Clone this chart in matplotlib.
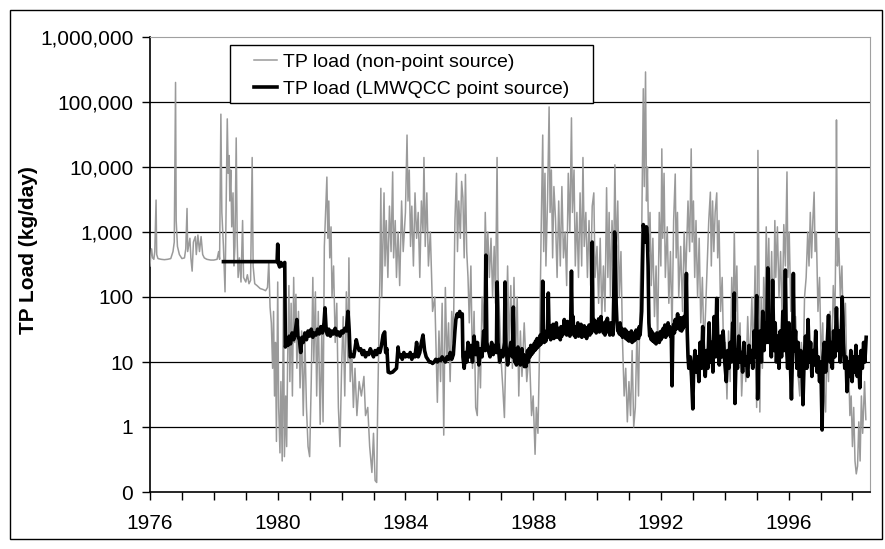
import matplotlib
matplotlib.use("Agg")
import matplotlib.pyplot as plt
from matplotlib.patches import Rectangle

plt.rcParams['font.family'] = ['Liberation Sans', 'DejaVu Sans']

# TP load, non-point source (year, kg/day)
nps_year = [
    1976.00, 1976.02, 1976.05, 1976.08, 1976.12, 1976.15, 1976.19, 1976.21, 1976.25, 1976.35,
    1976.45, 1976.55, 1976.65, 1976.72, 1976.76, 1976.80, 1976.82, 1976.86, 1976.92, 1977.00,
    1977.08, 1977.12, 1977.16, 1977.18, 1977.25, 1977.28, 1977.32, 1977.36, 1977.42, 1977.45,
    1977.50, 1977.55, 1977.60, 1977.65, 1977.70, 1977.78, 1977.90, 1978.00, 1978.10, 1978.15,
    1978.18, 1978.22, 1978.25, 1978.30, 1978.35, 1978.38, 1978.42, 1978.45, 1978.48, 1978.50,
    1978.53, 1978.56, 1978.60, 1978.63, 1978.66, 1978.70, 1978.73, 1978.76, 1978.80, 1978.85,
    1978.90, 1978.93, 1979.00, 1979.05, 1979.10, 1979.15, 1979.20, 1979.23, 1979.28, 1979.35,
    1979.45, 1979.55, 1979.62, 1979.68, 1979.72, 1979.76, 1979.80, 1979.84, 1979.87, 1979.90,
    1979.93, 1979.96, 1980.00, 1980.03, 1980.07, 1980.10, 1980.14, 1980.18, 1980.21, 1980.25,
    1980.28, 1980.31, 1980.35, 1980.38, 1980.42, 1980.46, 1980.50, 1980.53, 1980.57, 1980.60,
    1980.65, 1980.70, 1980.75, 1980.80, 1980.85, 1980.90, 1980.95, 1981.00, 1981.05, 1981.10,
    1981.13, 1981.18, 1981.22, 1981.27, 1981.33, 1981.38, 1981.42, 1981.46, 1981.50, 1981.54,
    1981.57, 1981.60, 1981.63, 1981.67, 1981.70, 1981.75, 1981.80, 1981.85, 1981.90, 1981.95,
    1982.00, 1982.05, 1982.10, 1982.15, 1982.20, 1982.23, 1982.27, 1982.32, 1982.37, 1982.42,
    1982.48, 1982.55, 1982.62, 1982.70, 1982.75, 1982.82, 1982.88, 1982.95, 1983.00, 1983.05,
    1983.10, 1983.13, 1983.17, 1983.20, 1983.23, 1983.26, 1983.30, 1983.33, 1983.36, 1983.40,
    1983.45, 1983.50, 1983.55, 1983.60, 1983.63, 1983.68, 1983.72, 1983.77, 1983.82, 1983.88,
    1983.93, 1984.00, 1984.05, 1984.08, 1984.12, 1984.16, 1984.20, 1984.25, 1984.30, 1984.35,
    1984.40, 1984.45, 1984.50, 1984.55, 1984.58, 1984.62, 1984.67, 1984.72, 1984.78, 1984.85,
    1984.92, 1985.00, 1985.05, 1985.10, 1985.15, 1985.20, 1985.25, 1985.30, 1985.35, 1985.40,
    1985.45, 1985.50, 1985.55, 1985.60, 1985.63, 1985.67, 1985.72, 1985.76, 1985.80, 1985.84,
    1985.88, 1985.92, 1985.96, 1986.00, 1986.05, 1986.10, 1986.15, 1986.20, 1986.25, 1986.30,
    1986.35, 1986.40, 1986.45, 1986.50, 1986.54, 1986.58, 1986.63, 1986.68, 1986.73, 1986.78,
    1986.82, 1986.87, 1986.90, 1986.95, 1987.00, 1987.05, 1987.10, 1987.15, 1987.20, 1987.25,
    1987.30, 1987.35, 1987.40, 1987.45, 1987.50, 1987.55, 1987.60, 1987.65, 1987.72, 1987.80,
    1987.88, 1987.95, 1988.00, 1988.06, 1988.10, 1988.15, 1988.20, 1988.25, 1988.30, 1988.33,
    1988.37, 1988.40, 1988.45, 1988.50, 1988.53, 1988.57, 1988.61, 1988.65, 1988.70, 1988.75,
    1988.80, 1988.85, 1988.90, 1988.95, 1989.00, 1989.05, 1989.10, 1989.15, 1989.20, 1989.23,
    1989.28, 1989.32, 1989.37, 1989.42, 1989.47, 1989.52, 1989.56, 1989.60, 1989.65, 1989.70,
    1989.75, 1989.80, 1989.85, 1989.90, 1989.94, 1990.00, 1990.05, 1990.10, 1990.15, 1990.20,
    1990.25, 1990.30, 1990.34, 1990.38, 1990.42, 1990.47, 1990.52, 1990.56, 1990.60, 1990.65,
    1990.70, 1990.75, 1990.80, 1990.85, 1990.90, 1990.95, 1991.00, 1991.05, 1991.10, 1991.15,
    1991.20, 1991.25, 1991.30, 1991.35, 1991.40, 1991.45, 1991.48, 1991.52, 1991.55, 1991.58,
    1991.62, 1991.66, 1991.70, 1991.75, 1991.80, 1991.85, 1991.90, 1991.95, 1992.00, 1992.03,
    1992.06, 1992.10, 1992.14, 1992.20, 1992.25, 1992.30, 1992.35, 1992.40, 1992.45, 1992.48,
    1992.52, 1992.56, 1992.62, 1992.68, 1992.73, 1992.78, 1992.85, 1992.90, 1992.95, 1992.98,
    1993.02, 1993.06, 1993.10, 1993.15, 1993.20, 1993.25, 1993.30, 1993.35, 1993.40, 1993.45,
    1993.50, 1993.55, 1993.58, 1993.62, 1993.66, 1993.70, 1993.75, 1993.78, 1993.82, 1993.87,
    1993.92, 1993.97, 1994.02, 1994.07, 1994.12, 1994.17, 1994.22, 1994.26, 1994.30, 1994.34,
    1994.38, 1994.43, 1994.48, 1994.53, 1994.60, 1994.66, 1994.72, 1994.78, 1994.85, 1994.90,
    1994.95, 1995.00, 1995.04, 1995.07, 1995.10, 1995.14, 1995.18, 1995.22, 1995.26, 1995.30,
    1995.34, 1995.38, 1995.42, 1995.47, 1995.52, 1995.57, 1995.60, 1995.65, 1995.70, 1995.75,
    1995.80, 1995.85, 1995.90, 1995.95, 1995.98, 1996.02, 1996.07, 1996.12, 1996.17, 1996.22,
    1996.28, 1996.35, 1996.40, 1996.45, 1996.50, 1996.55, 1996.60, 1996.64, 1996.68, 1996.72,
    1996.76, 1996.80, 1996.83, 1996.87, 1996.92, 1996.97, 1997.02, 1997.07, 1997.12, 1997.16,
    1997.20, 1997.25, 1997.30, 1997.35, 1997.40, 1997.45, 1997.48, 1997.50, 1997.53, 1997.57,
    1997.62, 1997.67, 1997.72, 1997.78, 1997.83, 1997.88, 1997.92, 1997.96, 1998.00, 1998.04,
    1998.08, 1998.12, 1998.16, 1998.20, 1998.24, 1998.28, 1998.32, 1998.38, 1998.42,
]
nps_load = [
    300, 420, 550, 400, 380, 500, 3100, 450, 390, 380,
    375, 380, 390, 500, 700, 200000, 1500, 600, 450, 390,
    400, 550, 2300, 500, 800, 400, 250, 700, 850, 450,
    900, 500, 850, 450, 400, 380, 370, 370, 380, 500,
    380, 65000, 2000, 600, 120, 1500, 55000, 8000, 15000, 3000,
    9000, 1200, 4000, 300, 600, 28000, 800, 200, 400, 170,
    1500, 200, 170, 220, 160, 180, 14000, 300, 160, 150,
    135, 130, 125, 140, 350, 70, 40, 8, 60, 3,
    20, 0.6, 170, 2, 0.4, 5, 0.3, 100, 0.35, 3,
    0.5, 10, 150, 5, 80, 3, 200, 20, 110, 8,
    60, 4, 30, 1.5, 25, 2, 0.5, 0.35, 5, 200,
    10, 120, 3, 60, 1.1, 30, 1.2, 600, 2000, 7000,
    800, 3000, 400, 1200, 100, 300, 20, 80, 2, 0.5,
    8, 50, 3, 120, 10, 400, 5, 15, 2, 8,
    1.5, 5, 3, 6, 1.5, 2, 0.5, 0.2, 0.8, 0.15,
    0.14, 2, 30, 200, 4700, 100, 800, 4000, 300, 1500,
    200, 2500, 500, 8400, 400, 1500, 200, 1000, 150, 3000,
    500, 2000, 31000, 3000, 9000, 600, 2500, 300, 4000, 800,
    2000, 200, 3000, 1000, 14000, 600, 4000, 300, 1000, 60,
    100, 2.4, 30, 5, 80, 0.75, 140, 10, 40, 5,
    60, 20, 1500, 8000, 500, 3000, 800, 6000, 3400, 400,
    7700, 500, 200, 40, 300, 8, 60, 2, 1.5, 20,
    4, 100, 30, 2000, 300, 1000, 200, 800, 100, 600,
    80, 14000, 200, 50, 10, 4, 1.4, 20, 300, 15,
    150, 8, 200, 12, 100, 3, 30, 6, 40, 5,
    15, 1.5, 3, 0.38, 2, 0.8, 15, 1000, 31000, 500,
    8000, 300, 3000, 84000, 2000, 9000, 400, 5000, 1600, 200,
    3000, 300, 5000, 400, 1000, 150, 8000, 1000, 57000, 2000,
    9000, 300, 2000, 200, 4000, 300, 14000, 600, 2000, 200,
    1500, 150, 2500, 4000, 200, 600, 80, 800, 50, 300,
    60, 4800, 200, 2000, 100, 1500, 300, 10800, 400, 3000,
    100, 500, 20, 3, 8, 1.2, 5, 1.5, 15, 1.0,
    2, 30, 3, 100, 1000, 160000, 5000, 290000, 3000, 10000,
    500, 2000, 150, 800, 50, 300, 20, 2000, 300, 19000,
    800, 8000, 200, 1200, 80, 500, 30, 1500, 7800, 400,
    2000, 100, 600, 60, 1000, 200, 3000, 500, 19000, 700,
    3000, 200, 1500, 100, 800, 40, 200, 15, 60, 300,
    1500, 4100, 300, 3000, 500, 2000, 4000, 400, 1500, 60,
    200, 10, 20, 2.7, 30, 5, 200, 30, 1000, 60,
    300, 10, 40, 3, 20, 5, 50, 8, 100, 10,
    300, 2, 18000, 300, 1.7, 100, 8, 200, 30, 1200,
    100, 800, 50, 500, 20, 1500, 200, 1200, 100, 500,
    40, 1300, 300, 8400, 200, 1000, 60, 200, 20, 50,
    8, 3, 20, 5, 100, 200, 1000, 300, 2000, 400,
    1500, 4100, 500, 1000, 60, 200, 10, 40, 3, 1.7,
    20, 5, 60, 10, 150, 40, 900, 53000, 300, 800,
    100, 300, 20, 80, 5, 10, 1.5, 3, 0.5, 2,
    0.3, 0.19, 0.25, 1.2, 0.3, 3, 0.8, 5, 1.3,
]

# TP load, LMWQCC point source (year, kg/day)
ps_year = [
    1978.30, 1979.98, 1980.00, 1980.02, 1980.06, 1980.10, 1980.14, 1980.18, 1980.22, 1980.24,
    1980.28, 1980.32, 1980.36, 1980.40, 1980.45, 1980.50, 1980.55, 1980.60, 1980.63, 1980.68,
    1980.72, 1980.76, 1980.80, 1980.85, 1980.90, 1980.95, 1981.00, 1981.05, 1981.10, 1981.15,
    1981.20, 1981.25, 1981.30, 1981.35, 1981.40, 1981.45, 1981.48, 1981.52, 1981.56, 1981.60,
    1981.65, 1981.70, 1981.75, 1981.80, 1981.85, 1981.90, 1981.95, 1982.00, 1982.05, 1982.10,
    1982.15, 1982.20, 1982.24, 1982.27, 1982.32, 1982.38, 1982.42, 1982.46, 1982.50, 1982.55,
    1982.60, 1982.65, 1982.70, 1982.75, 1982.80, 1982.85, 1982.90, 1982.95, 1983.00, 1983.05,
    1983.10, 1983.15, 1983.20, 1983.25, 1983.30, 1983.35, 1983.38, 1983.42, 1983.46, 1983.52,
    1983.60, 1983.66, 1983.72, 1983.77, 1983.80, 1983.85, 1983.90, 1983.95, 1984.00, 1984.05,
    1984.10, 1984.15, 1984.20, 1984.25, 1984.30, 1984.35, 1984.40, 1984.45, 1984.50, 1984.55,
    1984.60, 1984.65, 1984.70, 1984.75, 1984.80, 1984.85, 1984.90, 1984.95, 1985.00, 1985.05,
    1985.10, 1985.15, 1985.20, 1985.25, 1985.30, 1985.35, 1985.40, 1985.45, 1985.50, 1985.55,
    1985.58, 1985.62, 1985.66, 1985.70, 1985.74, 1985.78, 1985.80, 1985.84, 1985.88, 1985.92,
    1985.96, 1986.00, 1986.05, 1986.10, 1986.15, 1986.20, 1986.25, 1986.30, 1986.35, 1986.40,
    1986.45, 1986.50, 1986.52, 1986.55, 1986.60, 1986.65, 1986.70, 1986.75, 1986.80, 1986.85,
    1986.87, 1986.90, 1986.95, 1987.00, 1987.05, 1987.10, 1987.12, 1987.15, 1987.20, 1987.25,
    1987.30, 1987.35, 1987.38,
    1987.400, 1987.425, 1987.450, 1987.475, 1987.500, 1987.525, 1987.550, 1987.575, 1987.600, 1987.625,
    1987.650, 1987.675, 1987.700, 1987.725, 1987.750, 1987.775, 1987.800, 1987.825, 1987.850, 1987.875,
    1987.900, 1987.925, 1987.950, 1987.975, 1988.000, 1988.025, 1988.050, 1988.075, 1988.100, 1988.125,
    1988.150, 1988.175, 1988.200, 1988.225, 1988.250, 1988.275, 1988.300, 1988.325, 1988.350, 1988.375,
    1988.400, 1988.425, 1988.450, 1988.475, 1988.500, 1988.525, 1988.550, 1988.575, 1988.600, 1988.625,
    1988.650, 1988.675, 1988.700, 1988.725, 1988.750, 1988.775, 1988.800, 1988.825, 1988.850, 1988.875,
    1988.900, 1988.925, 1988.950, 1988.975, 1989.000, 1989.025, 1989.050, 1989.075, 1989.100, 1989.125,
    1989.150, 1989.175, 1989.200, 1989.225, 1989.250, 1989.275, 1989.300, 1989.325, 1989.350, 1989.375,
    1989.400, 1989.425, 1989.450, 1989.475, 1989.500, 1989.525, 1989.550, 1989.575, 1989.600, 1989.625,
    1989.650, 1989.675, 1989.700, 1989.725, 1989.750, 1989.775, 1989.800, 1989.825, 1989.850, 1989.875,
    1989.900, 1989.925, 1989.950, 1989.975, 1990.000, 1990.025, 1990.050, 1990.075, 1990.100, 1990.125,
    1990.150, 1990.175, 1990.200, 1990.225, 1990.250, 1990.275, 1990.300, 1990.325, 1990.350, 1990.375,
    1990.400, 1990.425, 1990.450, 1990.475, 1990.500, 1990.525, 1990.550, 1990.575, 1990.600, 1990.625,
    1990.650, 1990.675, 1990.700, 1990.725, 1990.750, 1990.775, 1990.800, 1990.825, 1990.850, 1990.875,
    1990.900, 1990.925, 1990.950, 1990.975, 1991.000, 1991.025, 1991.050, 1991.075, 1991.100, 1991.125,
    1991.150, 1991.175, 1991.200, 1991.225, 1991.250, 1991.275, 1991.300, 1991.325, 1991.350, 1991.375,
    1991.400, 1991.425, 1991.450, 1991.475, 1991.500, 1991.525, 1991.550, 1991.575, 1991.600, 1991.625,
    1991.650, 1991.675, 1991.700, 1991.725, 1991.750, 1991.775, 1991.800, 1991.825, 1991.850, 1991.875,
    1991.900, 1991.925, 1991.950, 1991.975, 1992.000, 1992.025, 1992.050, 1992.075, 1992.100, 1992.125,
    1992.150, 1992.175, 1992.200, 1992.225, 1992.250, 1992.275, 1992.300, 1992.325, 1992.350, 1992.375,
    1992.400, 1992.425, 1992.450, 1992.475, 1992.500, 1992.525, 1992.550, 1992.575, 1992.600, 1992.625,
    1992.650, 1992.675, 1992.700, 1992.725, 1992.750, 1992.775, 1992.800, 1992.825, 1992.850, 1992.875,
    1992.92, 1992.96, 1993.00, 1993.03, 1993.07, 1993.11, 1993.15, 1993.19,
    1993.23, 1993.27, 1993.31, 1993.35, 1993.39, 1993.43, 1993.47, 1993.51, 1993.55, 1993.59,
    1993.63, 1993.67, 1993.71, 1993.75, 1993.79, 1993.83, 1993.87, 1993.91, 1993.95, 1994.00,
    1994.05, 1994.09, 1994.13, 1994.17, 1994.21, 1994.25, 1994.28, 1994.30, 1994.32, 1994.36,
    1994.40, 1994.44, 1994.48, 1994.52, 1994.56, 1994.60, 1994.64, 1994.68, 1994.72, 1994.76,
    1994.80, 1994.84, 1994.88, 1994.92, 1994.96, 1995.00, 1995.03, 1995.07, 1995.11, 1995.15,
    1995.19, 1995.23, 1995.27, 1995.31, 1995.35, 1995.38, 1995.42, 1995.46, 1995.50, 1995.54,
    1995.58, 1995.62, 1995.66, 1995.70, 1995.74, 1995.78, 1995.82, 1995.86, 1995.90, 1995.93,
    1995.97, 1996.01, 1996.05, 1996.09, 1996.13, 1996.15, 1996.18, 1996.22, 1996.26, 1996.30,
    1996.34, 1996.38, 1996.42, 1996.45, 1996.49, 1996.53, 1996.57, 1996.61, 1996.65, 1996.69,
    1996.73, 1996.77, 1996.81, 1996.85, 1996.89, 1996.93, 1996.97, 1997.01, 1997.05, 1997.08,
    1997.12, 1997.16, 1997.20, 1997.25, 1997.29, 1997.33, 1997.37, 1997.41, 1997.45, 1997.50,
    1997.54, 1997.58, 1997.62, 1997.66, 1997.68, 1997.72, 1997.76, 1997.80, 1997.83, 1997.87,
    1997.91, 1997.95, 1997.99, 1998.03, 1998.07, 1998.11, 1998.15, 1998.19, 1998.23, 1998.27,
    1998.31, 1998.35, 1998.39, 1998.43,
]
ps_load = [
    350, 350, 650, 330, 290, 340, 300, 320, 340, 17,
    20, 18, 25, 19, 28, 22, 30, 45, 25, 22,
    14, 24, 20, 28, 22, 30, 25, 32, 24, 28,
    26, 32, 27, 35, 28, 40, 68, 30, 26, 32,
    25, 30, 27, 33, 26, 29, 25, 30, 28, 33,
    30, 60, 30, 12, 13, 12, 16, 22, 18, 15,
    16, 13, 15, 12, 14, 13, 16, 14, 12, 15,
    13, 16, 14, 18, 26, 29, 14, 16, 7, 6.8,
    7, 7.5, 8, 17, 12, 13, 11, 14, 12, 13,
    12, 14, 11, 13, 12, 20, 12, 14, 20, 26,
    15, 12, 11, 10, 10, 9.5, 10, 11, 10, 11,
    10.5, 12, 11, 10, 12, 11, 14, 11, 13, 30,
    45, 55, 50, 60, 50, 55, 12, 8, 14, 10,
    20, 12, 18, 10, 25, 13, 20, 9, 16, 12,
    30, 15, 440, 20, 15, 12, 20, 13, 18, 14,
    170, 20, 10, 15, 12, 20, 170, 18, 9, 14,
    20, 12, 70,
    14, 10, 16, 9, 13, 17, 10, 14, 9, 12,
    16, 10, 13, 8.5, 11, 8.5, 12, 15, 10, 16,
    12, 18, 13, 17, 14, 19, 15, 21, 16, 23,
    17, 22, 18, 26, 19, 24, 175, 30, 20, 27,
    21, 30, 24, 115, 26, 36, 22, 31, 24, 38,
    23, 30, 25, 40, 24, 33, 26, 29, 22, 35,
    25, 32, 27, 45, 28, 35, 26, 42, 27, 33,
    25, 38, 250, 32, 50, 26, 35, 24, 33, 27,
    40, 25, 34, 28, 38, 24, 33, 27, 36, 25,
    30, 23, 34, 27, 37, 26, 32, 28, 700, 35,
    45, 30, 42, 28, 38, 30, 46, 29, 36, 50,
    31, 40, 28, 36, 26, 42, 30, 47, 29, 38,
    26, 40, 28, 35, 26, 100, 1000, 600, 80, 40,
    30, 36, 27, 40, 26, 33, 24, 30, 25, 32,
    23, 30, 22, 28, 21, 27, 22, 30, 20, 26,
    21, 28, 22, 31, 24, 30, 23, 35, 26, 40,
    60, 300, 1300, 1000, 1100, 700, 1200, 900, 300, 40,
    25, 32, 22, 29, 21, 27, 20, 26, 19, 28,
    21, 25, 20, 29, 22, 30, 24, 33, 25, 37,
    24, 31, 26, 40, 27, 35, 25, 30, 4.3, 30,
    38, 28, 45, 32, 40, 55, 33, 42, 31, 48,
    30, 40, 33, 50, 36, 60, 230, 30, 12, 8,
    12, 6, 1.9, 9, 15, 7, 12, 5,
    20, 8, 35, 10, 6, 15, 8, 40, 10, 20,
    7, 50, 12, 95, 15, 9, 25, 12, 30, 10,
    5, 15, 8, 20, 10, 40, 12, 115, 2.3, 15,
    8, 25, 10, 14, 7, 20, 9, 12, 6, 18,
    10, 15, 8, 30, 12, 105, 2.7, 15, 30, 10,
    60, 15, 40, 20, 280, 20, 50, 12, 180, 15,
    40, 10, 25, 8, 30, 12, 60, 15, 260, 20,
    8, 40, 12, 2.7, 20, 230, 15, 30, 8, 20,
    6, 15, 10, 2.2, 12, 25, 8, 45, 10, 20,
    6, 15, 9, 30, 7, 12, 5, 10, 0.9, 12,
    20, 7, 15, 52, 10, 20, 8, 30, 12, 68,
    15, 30, 10, 40, 100, 20, 8, 12, 3.5, 10,
    6, 15, 5, 12, 7, 18, 6, 12, 4, 15,
    8, 20, 10, 24,
]

y_ticks = [0.1, 1, 10, 100, 1000, 10000, 100000, 1000000]
y_tick_labels = ['0', '1', '10', '100', '1,000', '10,000', '100,000', '1,000,000']
x_label_years = [1976, 1980, 1984, 1988, 1992, 1996]

fig = plt.figure(figsize=(8.85, 5.49), dpi=100)
ax = fig.add_axes([150 / 885, 1 - 492 / 549, 720 / 885, 455 / 549])

ax.plot(nps_year, nps_load, color='#9a9a9a', lw=1.1, label='TP load (non-point source)', zorder=3)
ax.plot(ps_year, ps_load, color='black', lw=2.6, label='TP load (LMWQCC point source)', zorder=4)

ax.set_yscale('log')
ax.set_ylim(0.1, 1000000)
ax.set_xlim(1976, 1998.55)
ax.set_yticks(y_ticks)
ax.set_yticklabels(y_tick_labels, fontsize=15)
ax.minorticks_off()
ax.set_xticks(range(1976, 1999))
ax.set_xticklabels([str(y) if y in x_label_years else '' for y in range(1976, 1999)], fontsize=15)
ax.tick_params(axis='both', direction='out', length=6, width=1, color='black', pad=6)
ax.tick_params(axis='x', pad=10)

for v in y_ticks[1:-1]:
    ax.axhline(v, color='black', lw=0.9, zorder=1)

for s in ['top', 'right']:
    ax.spines[s].set_color('#a0a0a0')
for s in ['left', 'bottom']:
    ax.spines[s].set_color('black')
    ax.spines[s].set_linewidth(1.2)

ax.set_ylabel('TP Load (kg/day)', fontsize=15, fontweight='bold')
ax.yaxis.set_label_coords((38 - 150) / 720, (492 - 250) / 455)

# legend without its own frame, box drawn at the reference position
ax.add_patch(Rectangle((230 / 885, 1 - 103 / 549), 363 / 885, 58 / 549, transform=fig.transFigure,
                       facecolor='white', edgecolor='black', lw=1.0, zorder=5, clip_on=False))
leg = ax.legend(loc='upper left', bbox_to_anchor=(254 / 885, 1 - 53 / 549), bbox_transform=fig.transFigure,
                borderaxespad=0, borderpad=0, fontsize=14, frameon=False,
                handlelength=1.2, handletextpad=0.3, labelspacing=0.5)
leg.set_zorder(6)

fig.patches.append(Rectangle((10 / 885, 10 / 549), 872 / 885, 529 / 549, transform=fig.transFigure,
                             fill=False, edgecolor='black', lw=1.0))

fig.savefig('out.png', dpi=100)
